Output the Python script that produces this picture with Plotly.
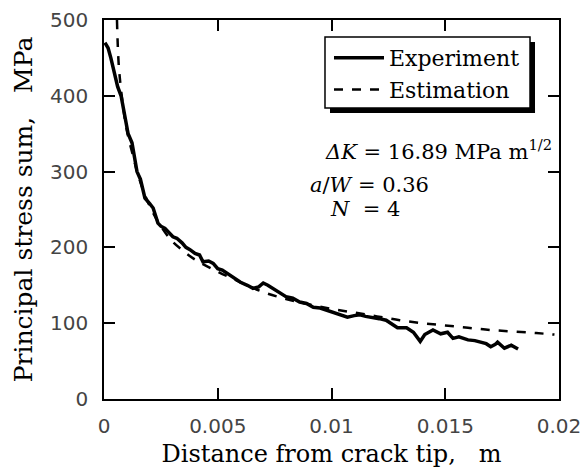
import plotly.graph_objects as go

# Experiment (solid) curve: distance [m], principal stress sum [MPa]
exp_x = [0.00004, 0.00018, 0.0003, 0.0004, 0.0006, 0.00075, 0.0009, 0.00106, 0.00123, 0.00136,
         0.00145, 0.0016, 0.0018, 0.002, 0.00216, 0.00237, 0.0025, 0.00268, 0.0029, 0.00303,
         0.0032, 0.00343, 0.0036, 0.00378, 0.004, 0.0042, 0.00435, 0.0046, 0.0048, 0.005,
         0.0052, 0.0054, 0.0057, 0.006, 0.0063, 0.00655, 0.0068, 0.007, 0.0072, 0.00743,
         0.0077, 0.008, 0.0083, 0.0086, 0.0089, 0.0092, 0.0095, 0.0098, 0.01007, 0.0104,
         0.0107, 0.011, 0.01125, 0.0115, 0.0118, 0.0121, 0.0124, 0.0127, 0.0129, 0.0133,
         0.0136, 0.0139, 0.0141, 0.01446, 0.0148, 0.0151, 0.01534, 0.0156, 0.016, 0.0163,
         0.01653, 0.0168, 0.017, 0.0172, 0.0173, 0.0176, 0.0179, 0.0182]
exp_y = [470, 463, 450, 437, 412, 400, 375, 350, 338, 315,
         300, 290, 265, 258, 252, 232, 228, 225, 218, 214,
         212, 206, 200, 197, 192, 190, 181, 182, 179, 172,
         170, 166, 160, 154, 150, 146, 148, 153, 150, 146,
         140, 135, 133, 128, 126, 121, 120, 117, 115, 112,
         108, 110, 111, 109, 108, 106, 104, 98, 94, 94,
         88, 76, 85, 91, 86, 88, 80, 82, 78, 77,
         75, 73, 69, 72, 75, 67, 71, 66]

# Estimation (dashed) curve
est_x = [0.00057, 0.00065, 0.0008, 0.001, 0.0013, 0.0015, 0.002, 0.0025, 0.003, 0.0035,
         0.004, 0.005, 0.006, 0.007, 0.008, 0.009, 0.010, 0.011, 0.012, 0.013,
         0.014, 0.015, 0.016, 0.017, 0.018, 0.019, 0.0198]
est_y = [500, 440, 395, 355, 318, 295, 255, 228, 208, 195,
         184, 168, 154, 141, 132, 125, 119, 114, 109, 104,
         100, 97, 94, 91, 89, 87, 85]

x_ticks = [0, 0.005, 0.01, 0.015, 0.02]
x_tick_labels = ["0", "0.005", "0.01", "0.015", "0.02"]
y_ticks = [0, 100, 200, 300, 400, 500]
y_tick_labels = ["0", "100", "200", "300", "400", "500"]

serif = "DejaVu Serif"
sans = "DejaVu Sans"

fig = go.Figure()
fig.add_trace(go.Scatter(x=exp_x, y=exp_y, mode="lines", name="Experiment",
                         line=dict(color="black", width=3.5)))
fig.add_trace(go.Scatter(x=est_x, y=est_y, mode="lines", name="Estimation",
                         line=dict(color="black", width=2.5, dash="dash", shape="spline")))

axis_common = dict(showline=True, linecolor="black", linewidth=1.5, mirror="ticks",
                   ticks="inside", ticklen=11, tickwidth=1.5, tickcolor="black",
                   showgrid=False, zeroline=False, automargin=False,
                   tickfont=dict(family=sans, size=20, color="#444"))

fig.update_layout(
    width=585, height=469,
    margin=dict(l=104, r=26, t=20, b=70),
    paper_bgcolor="white", plot_bgcolor="white",
    font=dict(family=serif),
    xaxis=dict(range=[0, 0.02], tickvals=x_ticks, ticktext=x_tick_labels,
               ticklabelstandoff=8,
               title=dict(text="Distance from crack tip,   m",
                          font=dict(family=serif, size=24, color="black"), standoff=8),
               **axis_common),
    yaxis=dict(range=[0, 500], tickvals=y_ticks, ticktext=y_tick_labels,
               ticklabelstandoff=10,
               title=dict(text="Principal stress sum,   MPa",
                          font=dict(family=serif, size=25, color="black"), standoff=10),
               **axis_common),
    legend=dict(x=0.4945, y=0.955, xanchor="left", yanchor="top",
                bgcolor="rgba(0,0,0,0)", borderwidth=0,
                font=dict(family=serif, size=22, color="black"),
                tracegroupgap=0, itemwidth=50),
    showlegend=True,
)

# legend frame with drop shadow (px: frame 325-530 x 37-108, shadow offset 5 px)
fig.add_shape(type="rect", xref="paper", yref="paper",
              x0=0.4857, x1=0.9363, y0=0.7678, y1=0.9551,
              fillcolor="white", line=dict(color="black", width=1.5), layer="above")
fig.add_shape(type="rect", xref="paper", yref="paper",
              x0=0.9363, x1=0.9473, y0=0.7546, y1=0.942,
              fillcolor="black", line=dict(width=0), layer="above")
fig.add_shape(type="rect", xref="paper", yref="paper",
              x0=0.4967, x1=0.9473, y0=0.7546, y1=0.7678,
              fillcolor="black", line=dict(width=0), layer="above")

ann_font = dict(family=serif, size=21, color="black")
fig.add_annotation(x=0.00963, y=328, xref="x", yref="y", xanchor="left", yanchor="middle",
                   text="<i>ΔK</i> = 16.89 MPa m<sup>1/2</sup>", showarrow=False, font=ann_font)
fig.add_annotation(x=0.00897, y=282, xref="x", yref="y", xanchor="left", yanchor="middle",
                   text="<i>a</i>/<i>W</i> = 0.36", showarrow=False, font=ann_font)
fig.add_annotation(x=0.00985, y=251, xref="x", yref="y", xanchor="left", yanchor="middle",
                   text="<i>N</i>  = 4", showarrow=False, font=ann_font)

fig.write_html("out.html")
